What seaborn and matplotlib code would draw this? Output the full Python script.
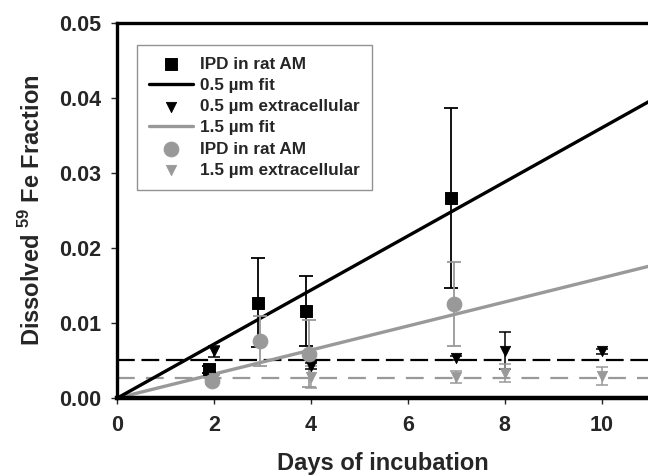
import matplotlib
matplotlib.use("Agg")
import matplotlib.pyplot as plt
import numpy as np
import pandas as pd
import seaborn as sns

# values
days_am = [1.9, 2.9, 3.9, 6.9]
am_05 = [0.0038, 0.0127, 0.0116, 0.0266]
am_05_err = [0.0005, 0.0059, 0.0047, 0.0120]

days_am15 = [1.95, 2.95, 3.95, 6.95]
am_15 = [0.0023, 0.0076, 0.0059, 0.0125]
am_15_err = [0.0004, 0.0033, 0.0045, 0.0056]

days_ext05 = [2.0, 4.0, 7.0, 8.0, 10.0]
ext_05 = [0.0062, 0.0043, 0.0053, 0.0063, 0.0062]
ext_05_err = [0.0007, 0.0004, 0.0003, 0.0025, 0.0003]

days_ext15 = [2.0, 4.0, 7.0, 8.0, 10.0]
ext_15 = [0.0026, 0.0028, 0.0028, 0.0033, 0.0029]
ext_15_err = [0.0004, 0.0015, 0.0008, 0.0012, 0.0012]

fit_days = [0, 11]
slope_05 = 0.0036
slope_15 = 0.0016
mean_ext_05 = 0.0051
mean_ext_15 = 0.0027

sns.set_theme(style="ticks")
plt.rcParams["font.family"] = ["Liberation Sans", "DejaVu Sans"]
plt.rcParams["font.weight"] = "bold"
plt.rcParams["mathtext.fontset"] = "custom"
plt.rcParams["mathtext.rm"] = "Liberation Sans:bold"
plt.rcParams["mathtext.bf"] = "Liberation Sans:bold"

black = "#000000"
grey = "#999999"

fig = plt.figure(figsize=(6.48, 4.76), dpi=100)
ax = fig.add_axes([0.1813, 0.1639, 0.8187, 0.7878])

fit = pd.DataFrame({"day": fit_days,
                    "f05": np.array(fit_days) * slope_05,
                    "f15": np.array(fit_days) * slope_15})

# dashed means of the extracellular data
ax.axhline(mean_ext_05, color=black, lw=1.6, dashes=(8, 3), zorder=1)
ax.axhline(mean_ext_15, color=grey, lw=1.6, dashes=(8, 5), zorder=1)

# fit lines
sns.lineplot(data=fit, x="day", y="f05", color=black, lw=2.4, ax=ax,
             label="0.5 \u00b5m fit", zorder=3)
sns.lineplot(data=fit, x="day", y="f15", color=grey, lw=2.4, ax=ax,
             label="1.5 \u00b5m fit", zorder=2)

# error bars
ax.errorbar(days_am, am_05, yerr=am_05_err, fmt="none", ecolor=black,
            elinewidth=1.3, capsize=5, capthick=1.3, zorder=4)
ax.errorbar(days_am15, am_15, yerr=am_15_err, fmt="none", ecolor=grey,
            elinewidth=1.3, capsize=5, capthick=1.3, zorder=4)
ax.errorbar(days_ext05, ext_05, yerr=ext_05_err, fmt="none", ecolor=black,
            elinewidth=1.1, capsize=4, capthick=1.1, zorder=4)
ax.errorbar(days_ext15, ext_15, yerr=ext_15_err, fmt="none", ecolor=grey,
            elinewidth=1.1, capsize=4, capthick=1.1, zorder=4)

# markers
sns.scatterplot(x=days_am, y=am_05, marker="s", s=70, color=black,
                edgecolor=black, ax=ax, label="IPD in rat AM", zorder=5)
sns.scatterplot(x=days_ext05, y=ext_05, marker="v", s=55, color=black,
                edgecolor=black, ax=ax, label="0.5 \u00b5m extracellular", zorder=5)
sns.scatterplot(x=days_am15, y=am_15, marker="o", s=110, color=grey,
                edgecolor=grey, ax=ax, label="IPD in rat AM", zorder=6)
sns.scatterplot(x=days_ext15, y=ext_15, marker="v", s=55, color=grey,
                edgecolor=grey, ax=ax, label="1.5 \u00b5m extracellular", zorder=6)

ax.set_xlim(0, 10.96)
ax.set_ylim(0, 0.05)
ax.set_xticks([0, 2, 4, 6, 8, 10])
ax.set_yticks([0.0, 0.01, 0.02, 0.03, 0.04, 0.05])
ax.set_yticklabels(["0.00", "0.01", "0.02", "0.03", "0.04", "0.05"])
ax.tick_params(axis="both", labelsize=15.5, length=4, width=1, pad=8)

ax.set_xlabel("Days of incubation", fontsize=17, fontweight="bold", labelpad=12)
ax.set_ylabel(r"Dissolved $^{59}$ Fe Fraction", fontsize=17, fontweight="bold", labelpad=10)

for side in ["left", "top"]:
    ax.spines[side].set_linewidth(2.4)
    ax.spines[side].set_color(black)
ax.spines["bottom"].set_linewidth(3.2)
ax.spines["bottom"].set_color(black)
ax.spines["right"].set_visible(False)

# legend in the reference order
h, l = ax.get_legend_handles_labels()
order = [2, 0, 3, 1, 4, 5]
leg = ax.legend([h[i] for i in order], [l[i] for i in order],
                loc="upper left", bbox_to_anchor=(0.2114, 0.9055),
                bbox_transform=fig.transFigure, fontsize=12.3,
                frameon=True, fancybox=False, edgecolor="#777777",
                handlelength=2.6, handletextpad=0.4, labelspacing=0.36,
                borderpad=0.7, borderaxespad=0)
leg.get_frame().set_linewidth(1.0)

plt.savefig("out.png", dpi=100)
